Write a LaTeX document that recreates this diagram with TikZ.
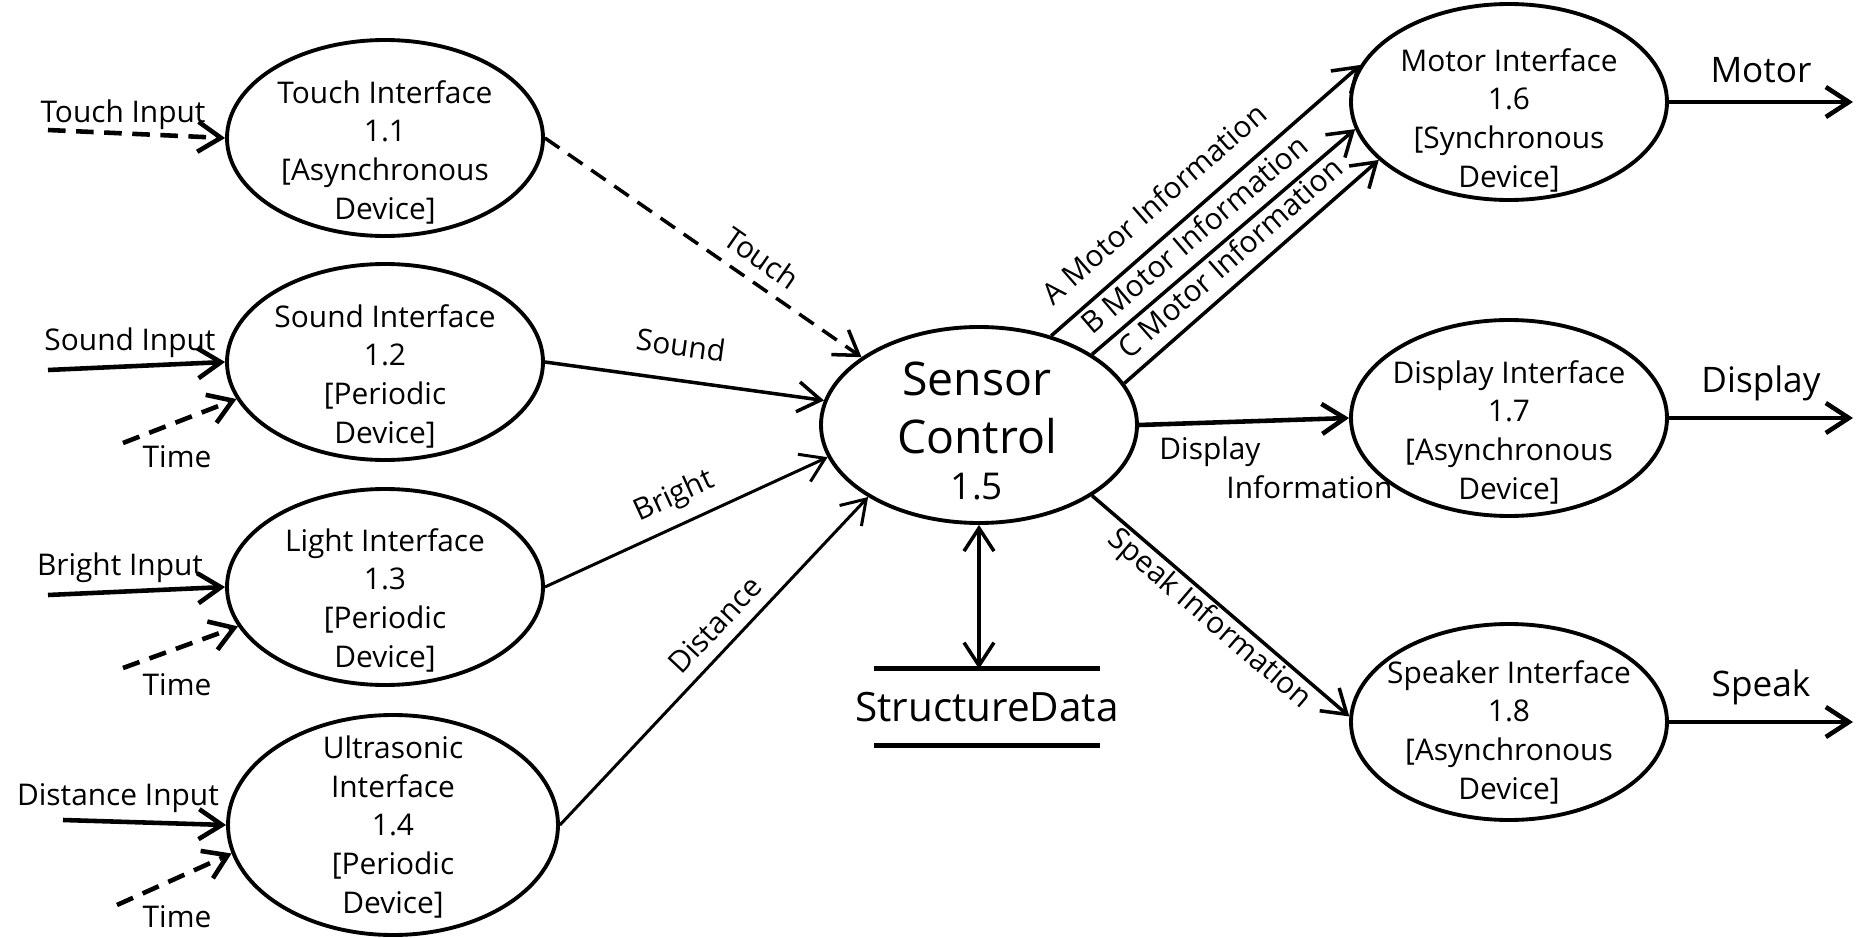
\documentclass[tikz,border=0pt]{standalone}
\usepackage{fontspec}
\setmainfont{Open Sans}
\usetikzlibrary{shapes.geometric,arrows.meta}

\begin{document}
\begin{tikzpicture}[
  >={Straight Barb[length=2.3mm,width=3mm]},
  proc/.style={ellipse, draw, line width=1.1pt, minimum width=3.16cm, minimum height=1.96cm, inner sep=0pt},
  proctext/.style={align=center, font=\fontsize{8.5}{11}\selectfont},
  lbl/.style={font=\fontsize{8.5}{11}\selectfont},
  outlbl/.style={font=\fontsize{10}{12}\selectfont},
  flow/.style={->, line width=1pt},
  thin flow/.style={->, line width=0.85pt},
  thick flow/.style={->, line width=1.3pt},
  ctrlflow/.style={dash pattern=on 5pt off 3pt},
]
  \useasboundingbox (0,0) rectangle (18.58,-9.38);

  % interface processes, left
  \node[proc] (touch) at (3.85,-1.38) {};
  \node[proctext] (touchtxt) at (3.85,-1.52) {Touch Interface\\1.1\\{[Asynchronous}\\Device]};
  \node[proc] (sound) at (3.85,-3.62) {};
  \node[proctext] (soundtxt) at (3.85,-3.76) {Sound Interface\\1.2\\{[Periodic}\\Device]};
  \node[proc] (light) at (3.85,-5.87) {};
  \node[proctext] (lighttxt) at (3.85,-6.00) {Light Interface\\1.3\\{[Periodic}\\Device]};
  \node[proc, minimum width=3.30cm, minimum height=2.20cm] (ultra) at (3.93,-8.25) {};
  \node[proctext] (ultratxt) at (3.93,-8.27) {Ultrasonic\\Interface\\1.4\\{[Periodic}\\Device]};

  % central process and store
  \node[proc] (ctrl) at (9.79,-4.25) {};
  \node[align=center, font=\fontsize{13.2}{16.4}\selectfont] (ctrltxt) at (9.77,-4.31) {Sensor\\Control\\[-3.2pt]{\fontsize{10.5}{13}\selectfont 1.5}};
  \node[font=\fontsize{11.5}{14}\selectfont, minimum height=0.75cm, inner sep=0pt] (store) at (9.87,-7.07) {StructureData};
  \draw[line width=1.5pt] ([xshift=-1.13cm]store.north) -- ([xshift=1.13cm]store.north);
  \draw[line width=1.5pt] ([xshift=-1.13cm]store.south) -- ([xshift=1.13cm]store.south);

  % interface processes, right
  \node[proc] (motor) at (15.09,-1.02) {};
  \node[proctext] (motortxt) at (15.09,-1.20) {Motor Interface\\1.6\\{[Synchronous}\\Device]};
  \node[proc] (disp) at (15.09,-4.18) {};
  \node[proctext] (disptxt) at (15.09,-4.32) {Display Interface\\1.7\\{[Asynchronous}\\Device]};
  \node[proc] (spk) at (15.09,-7.22) {};
  \node[proctext] (spktxt) at (15.09,-7.32) {Speaker Interface\\1.8\\{[Asynchronous}\\Device]};

  % free ends
  \coordinate (tin) at (0.48,-1.30);
  \coordinate (sin) at (0.48,-3.70);
  \coordinate (stime) at (1.23,-4.43);
  \coordinate (bin) at (0.48,-5.95);
  \coordinate (btime) at (1.23,-6.68);
  \coordinate (din) at (0.63,-8.20);
  \coordinate (dtime) at (1.17,-9.05);
  \coordinate (mout) at (18.53,-1.02);
  \coordinate (dout) at (18.53,-4.18);
  \coordinate (sout) at (18.53,-7.22);

  \node[lbl] (tinlbl) at (1.23,-1.15) {Touch Input};
  \node[lbl] (sinlbl) at (1.30,-3.43) {Sound Input};
  \node[lbl] (stimelbl) at (1.77,-4.57) {Time};
  \node[lbl] (binlbl) at (1.20,-5.68) {Bright Input};
  \node[lbl] (btimelbl) at (1.77,-6.85) {Time};
  \node[lbl] (dinlbl) at (1.18,-7.98) {Distance Input};
  \node[lbl] (dtimelbl) at (1.77,-9.17) {Time};

  % inputs
  \draw[thick flow, ctrlflow] (tin) -- (touch.west);
  \draw[thick flow] (sin) -- (sound.west);
  \draw[thick flow, ctrlflow] (stime) -- (sound.194);
  \draw[thick flow] (bin) -- (light.west);
  \draw[thick flow, ctrlflow] (btime) -- (light.195);
  \draw[thick flow] (din) -- (ultra.west);
  \draw[thick flow, ctrlflow] (dtime) -- (ultra.190);

  % into sensor control
  \draw[flow, ctrlflow] (touch.east) -- node[lbl, pos=0.64, sloped, above] (touchlbl) {Touch} (ctrl.150);
  \draw[flow] (sound.east) -- node[lbl, pos=0.47, sloped, above=3pt] (soundlbl) {Sound} (ctrl.171);
  \draw[thin flow] (light.east) -- node[lbl, pos=0.5, sloped, above] (brightlbl) {Bright} (ctrl.192);
  \draw[thin flow] (ultra.east) -- node[lbl, pos=0.56, sloped, above] (distlbl) {Distance} (ctrl.213);
  \draw[flow, <->] (ctrl.south) -- (ctrl.south |- store.north);

  % out of sensor control
  \draw[flow] (ctrl.51) -- node[lbl, pos=0.40, sloped, above=2pt] (alabel) {A Motor Information} (motor.166);
  \draw[flow] (ctrl.32) -- node[lbl, pos=0.45, sloped, above] (blabel) {B Motor Information} (motor.190);
  \draw[flow] (ctrl.16) -- node[lbl, pos=0.48, sloped, above] (clabel) {C Motor Information} (motor.204);
  \draw[thick flow] (ctrl.east) -- (disp.west);
  \node[lbl, align=left, anchor=west] (dinfo) at (11.47,-4.68) {Display\\\hspace{0.67cm}Information};
  \draw[flow] (ctrl.-32) -- node[lbl, pos=0.5, sloped, below=-3pt] (spkinfo) {Speak Information} (spk.178);

  % outputs
  \draw[thick flow] (motor.east) -- node[outlbl, above=1.5pt] (motorlbl) {Motor} (mout);
  \draw[thick flow] (disp.east) -- node[outlbl, above=1pt] (displbl) {Display} (dout);
  \draw[thick flow] (spk.east) -- node[outlbl, above=1pt] (spklbl) {Speak} (sout);
\end{tikzpicture}
\end{document}
